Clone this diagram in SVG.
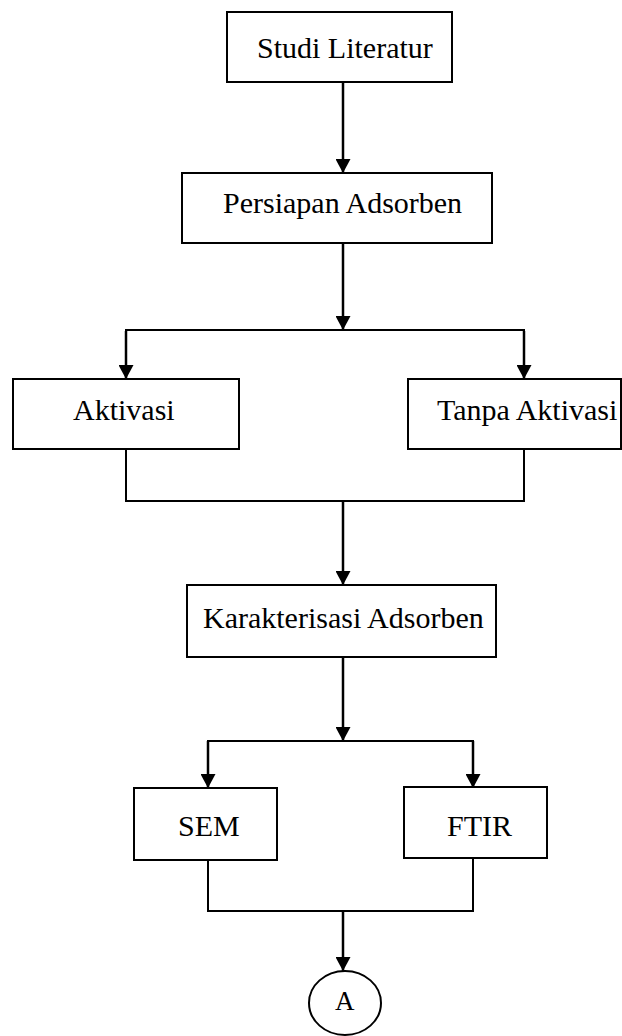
<svg xmlns="http://www.w3.org/2000/svg" width="622" height="1036" viewBox="0 0 622 1036">
<style>
.box{fill:#fff;stroke:#000;stroke-width:2}
.lbl{font-family:"Liberation Serif","Times New Roman",serif;font-size:30px;fill:#000}
.ln{fill:none;stroke:#000;stroke-width:2}
.ar{fill:none;stroke:#000;stroke-width:2.5;marker-end:url(#ah)}
</style>
<defs>
<marker id="ah" markerUnits="userSpaceOnUse" viewBox="0 0 14 15" refX="14" refY="7.5" markerWidth="14" markerHeight="15" orient="auto">
<path d="M0,0 L14,7.5 L0,15 z" fill="#000"/>
</marker>
</defs>
<rect width="622" height="1036" fill="#fff"/>
<g id="connectors">
<line class="ar" x1="343" y1="82" x2="343" y2="173"/>
<line class="ar" x1="343" y1="243" x2="343" y2="330"/>
<polyline class="ln" points="126,379 126,330 524,330 524,379"/>
<line class="ar" x1="126" y1="331" x2="126" y2="379"/>
<line class="ar" x1="524" y1="331" x2="524" y2="379"/>
<polyline class="ln" points="126,449 126,501 524,501 524,449"/>
<line class="ar" x1="343" y1="501" x2="343" y2="585"/>
<line class="ar" x1="343" y1="657" x2="343" y2="741"/>
<polyline class="ln" points="208,742 208,741 473,741 473,742"/>
<line class="ar" x1="208" y1="741" x2="208" y2="788"/>
<line class="ar" x1="473" y1="741" x2="473" y2="788"/>
<polyline class="ln" points="208,860 208,911 473,911 473,858"/>
<line class="ar" x1="343" y1="911" x2="343" y2="971"/>
</g>
<g id="studi"><rect class="box" x="227" y="12" width="225" height="70"/><text class="lbl" x="257" y="58">Studi Literatur</text></g>
<g id="persiapan"><rect class="box" x="182" y="173" width="310" height="70"/><text class="lbl" x="223" y="213">Persiapan Adsorben</text></g>
<g id="aktivasi"><rect class="box" x="13" y="379" width="226" height="70"/><text class="lbl" x="73" y="420">Aktivasi</text></g>
<g id="tanpa"><rect class="box" x="408" y="379" width="213" height="70"/><text class="lbl" x="437" y="420">Tanpa Aktivasi</text></g>
<g id="karakterisasi"><rect class="box" x="187" y="585" width="309" height="72"/><text class="lbl" x="203" y="628">Karakterisasi Adsorben</text></g>
<g id="sem"><rect class="box" x="134" y="788" width="143" height="72"/><text class="lbl" x="178" y="836">SEM</text></g>
<g id="ftir"><rect class="box" x="404" y="787" width="143" height="71"/><text class="lbl" x="447" y="836">FTIR</text></g>
<g id="a"><ellipse cx="345" cy="1003" rx="36" ry="32" fill="#fff" stroke="#000" stroke-width="2"/><text class="lbl" x="335" y="1010" style="font-size:27px">A</text></g>
</svg>
